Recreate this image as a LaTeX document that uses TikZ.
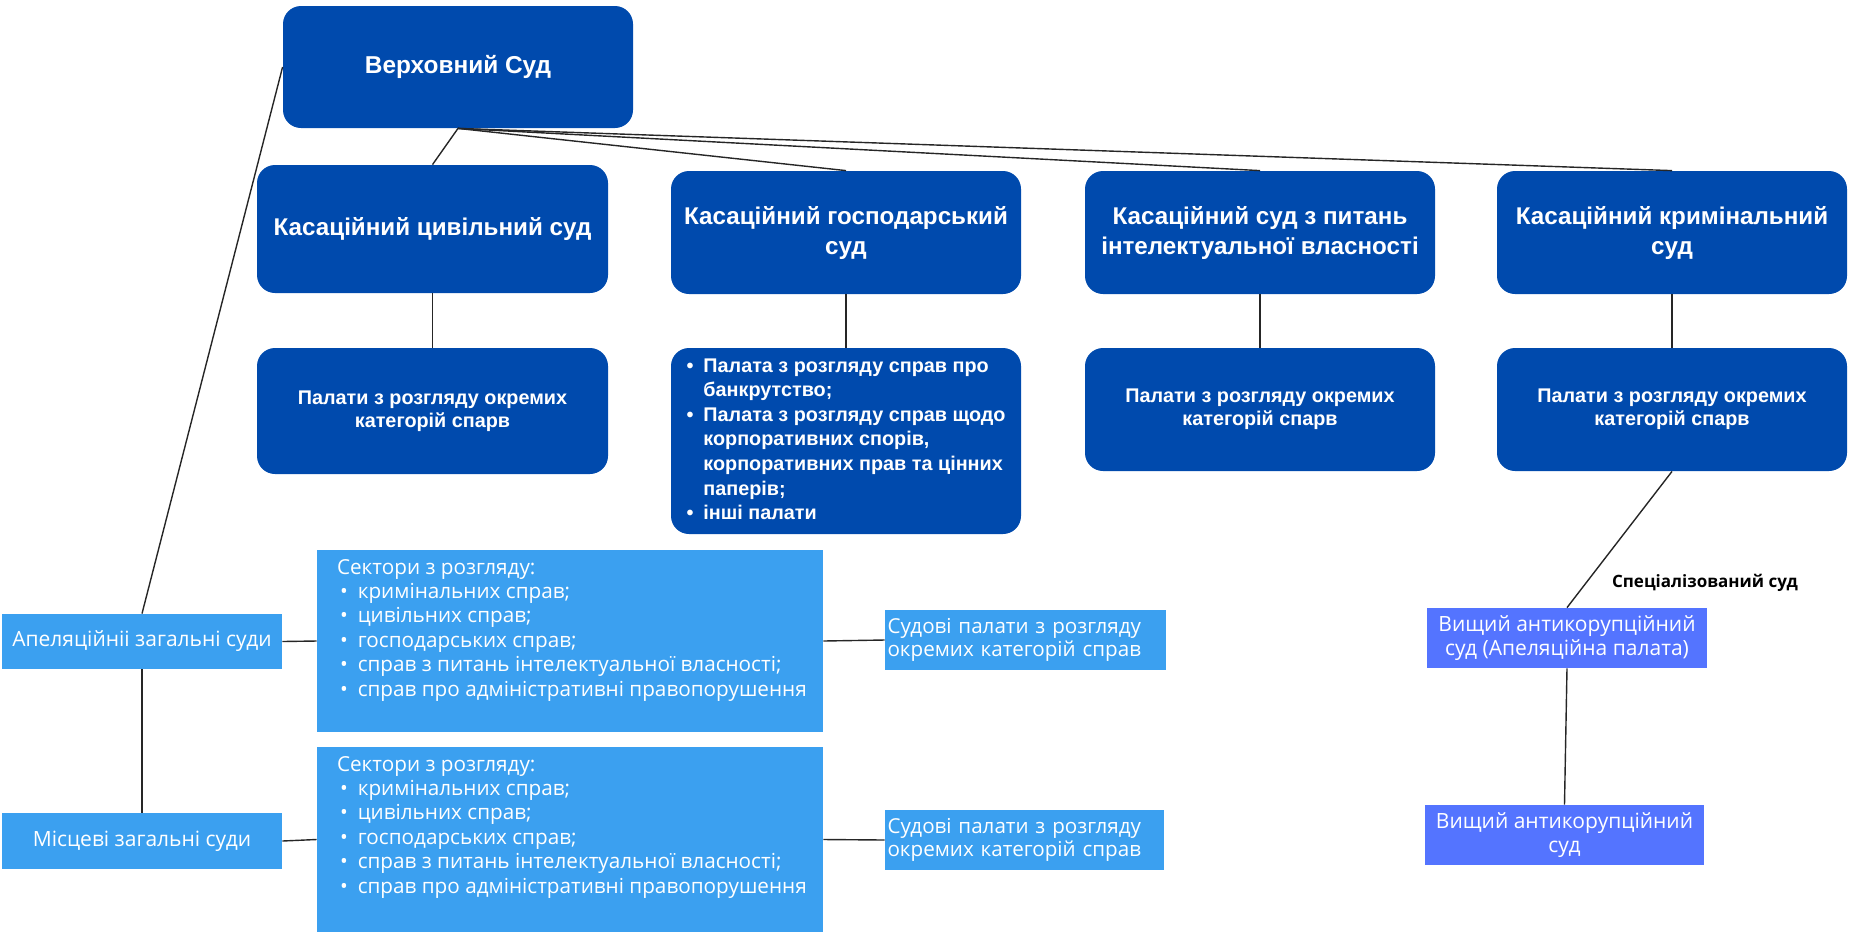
\documentclass[tikz,border=0pt]{standalone}
\usepackage{fontspec}
\setmainfont{Open Sans}
\newfontfamily\headfont{Liberation Sans}

\definecolor{supremeblue}{HTML}{004AAD}
\definecolor{generalblue}{HTML}{3BA0F0}
\definecolor{anticorrblue}{HTML}{5474FF}

\newcommand{\sectoritem}{\hspace{1.5pt}\textbullet\hspace{5pt}}

\begin{document}
\begin{tikzpicture}[
    x=0.5pt, y=-0.5pt,
    court/.style={fill=supremeblue, rounded corners=9pt, text=white, inner sep=0pt, align=center,
        font=\headfont\bfseries\fontsize{12.1}{15}\selectfont},
    chamber/.style={court, font=\headfont\bfseries\fontsize{9.9}{11.5}\selectfont},
    general/.style={fill=generalblue, text=white, inner sep=0pt, align=center,
        font=\fontsize{10.5}{12.2}\selectfont},
    sectorbox/.style={general, inner xsep=0pt, inner ysep=4.5pt, font=\fontsize{10.35}{12.2}\selectfont},
    anticorr/.style={general, fill=anticorrblue, font=\fontsize{10.5}{12}\selectfont},
    link/.style={draw=black!85, line width=0.7pt},
]
\useasboundingbox (0,0) rectangle (1849,934);

% Supreme Court
\node[court, minimum width=175pt, minimum height=61pt, font=\headfont\bfseries\fontsize{12.2}{15}\selectfont] (vs) at (458,67) {Верховний Суд};

% Cassation courts
\node[court, minimum width=175.5pt, minimum height=64pt] (kcs) at (432.5,229) {Касаційний цивільний суд};
\node[court, minimum width=175pt, minimum height=61.5pt] (kgs) at (846,232.5) {Касаційний господарський\\суд};
\node[court, minimum width=175pt, minimum height=61.5pt] (kis) at (1260,232.5) {Касаційний суд з питань\\інтелектуальної власності};
\node[court, minimum width=175pt, minimum height=61.5pt] (kks) at (1672,232.5) {Касаційний кримінальний\\суд};

% Chambers
\node[chamber, minimum width=175.5pt, minimum height=63pt] (pcs) at (432.5,411) {Палати з розгляду окремих\\категорій спарв};
\node[chamber, minimum width=175pt, minimum height=93pt, font=\headfont\bfseries\fontsize{9.9}{12.3}\selectfont] (pgs) at (846,441) {%
  \begin{tabular}{@{}l@{\hspace{5pt}}l@{}}
  \textbullet & Палата з розгляду справ про\\
   & банкрутство;\\
  \textbullet & Палата з розгляду справ щодо\\
   & корпоративних спорів,\\
   & корпоративних прав та цінних\\
   & паперів;\\
  \textbullet & інші палати
  \end{tabular}};
\node[chamber, minimum width=175pt, minimum height=61.5pt] (pis) at (1260,409.5) {Палати з розгляду окремих\\категорій спарв};
\node[chamber, minimum width=175pt, minimum height=61.5pt] (pks) at (1672,409.5) {Палати з розгляду окремих\\категорій спарв};

% General courts
\node[general, minimum width=140pt, minimum height=27.5pt] (apel) at (142,641.5) {Апеляційніі загальні суди};
\node[general, minimum width=140pt, minimum height=28pt] (misc) at (142,841) {Місцеві загальні суди};

% Sectors
\node[sectorbox] (sec1) at (570,641) {\parbox[c][82pt][t]{253pt}{\raggedright\leftskip=10pt
  Сектори з розгляду:\\
  \sectoritem кримінальних справ;\\
  \sectoritem цивільних справ;\\
  \sectoritem господарських справ;\\
  \sectoritem справ з питань інтелектуальної власності;\\
  \sectoritem справ про адміністративні правопорушення}};
\node[sectorbox] (sec2) at (570,839.5) {\parbox[c][83.5pt][t]{253pt}{\raggedright\leftskip=10pt
  Сектори з розгляду:\\
  \sectoritem кримінальних справ;\\
  \sectoritem цивільних справ;\\
  \sectoritem господарських справ;\\
  \sectoritem справ з питань інтелектуальної власності;\\
  \sectoritem справ про адміністративні правопорушення}};

% Judicial chambers
\node[general, text width=138pt, inner xsep=1.25pt, align=left, minimum height=30pt, font=\fontsize{10.3}{11.5}\selectfont] (sud1) at (1025.5,640) {Судові палати з розгляду\\окремих категорій справ};
\node[general, text width=137pt, inner xsep=1.25pt, align=left, minimum height=30pt, font=\fontsize{10.3}{11.5}\selectfont] (sud2) at (1024.5,840) {Судові палати з розгляду\\окремих категорій справ};

% Anti-corruption court
\node[anticorr, minimum width=140pt, minimum height=30pt] (vak1) at (1567,638) {Вищий антикорупційний\\суд (Апеляційна палата)};
\node[anticorr, minimum width=139.5pt, minimum height=30pt] (vak2) at (1564.5,835) {Вищий антикорупційний\\суд};
\node[font=\bfseries\fontsize{8.5}{10}\selectfont] (spec) at (1705,583) {Спеціалізований суд};

% Connections
\foreach \c in {kcs,kgs,kis,kks}
  \draw[link] (vs.south) -- (\c.north);
\draw[link] (kcs.south) -- (pcs.north);
\draw[link] (kgs.south) -- (pgs.north);
\draw[link] (kis.south) -- (pis.north);
\draw[link] (kks.south) -- (pks.north);
\draw[link] (vs.west) -- (apel.north);
\draw[link] (apel.south) -- (misc.north);
\draw[link] (apel.east) -- (sec1.west);
\draw[link] (misc.east) -- (sec2.west);
\draw[link] (sec1.east) -- (sud1.west);
\draw[link] (sec2.east) -- (sud2.west);
\draw[link] (pks.south) -- (vak1.north);
\draw[link] (vak1.south) -- (vak2.north);

\end{tikzpicture}
\end{document}
